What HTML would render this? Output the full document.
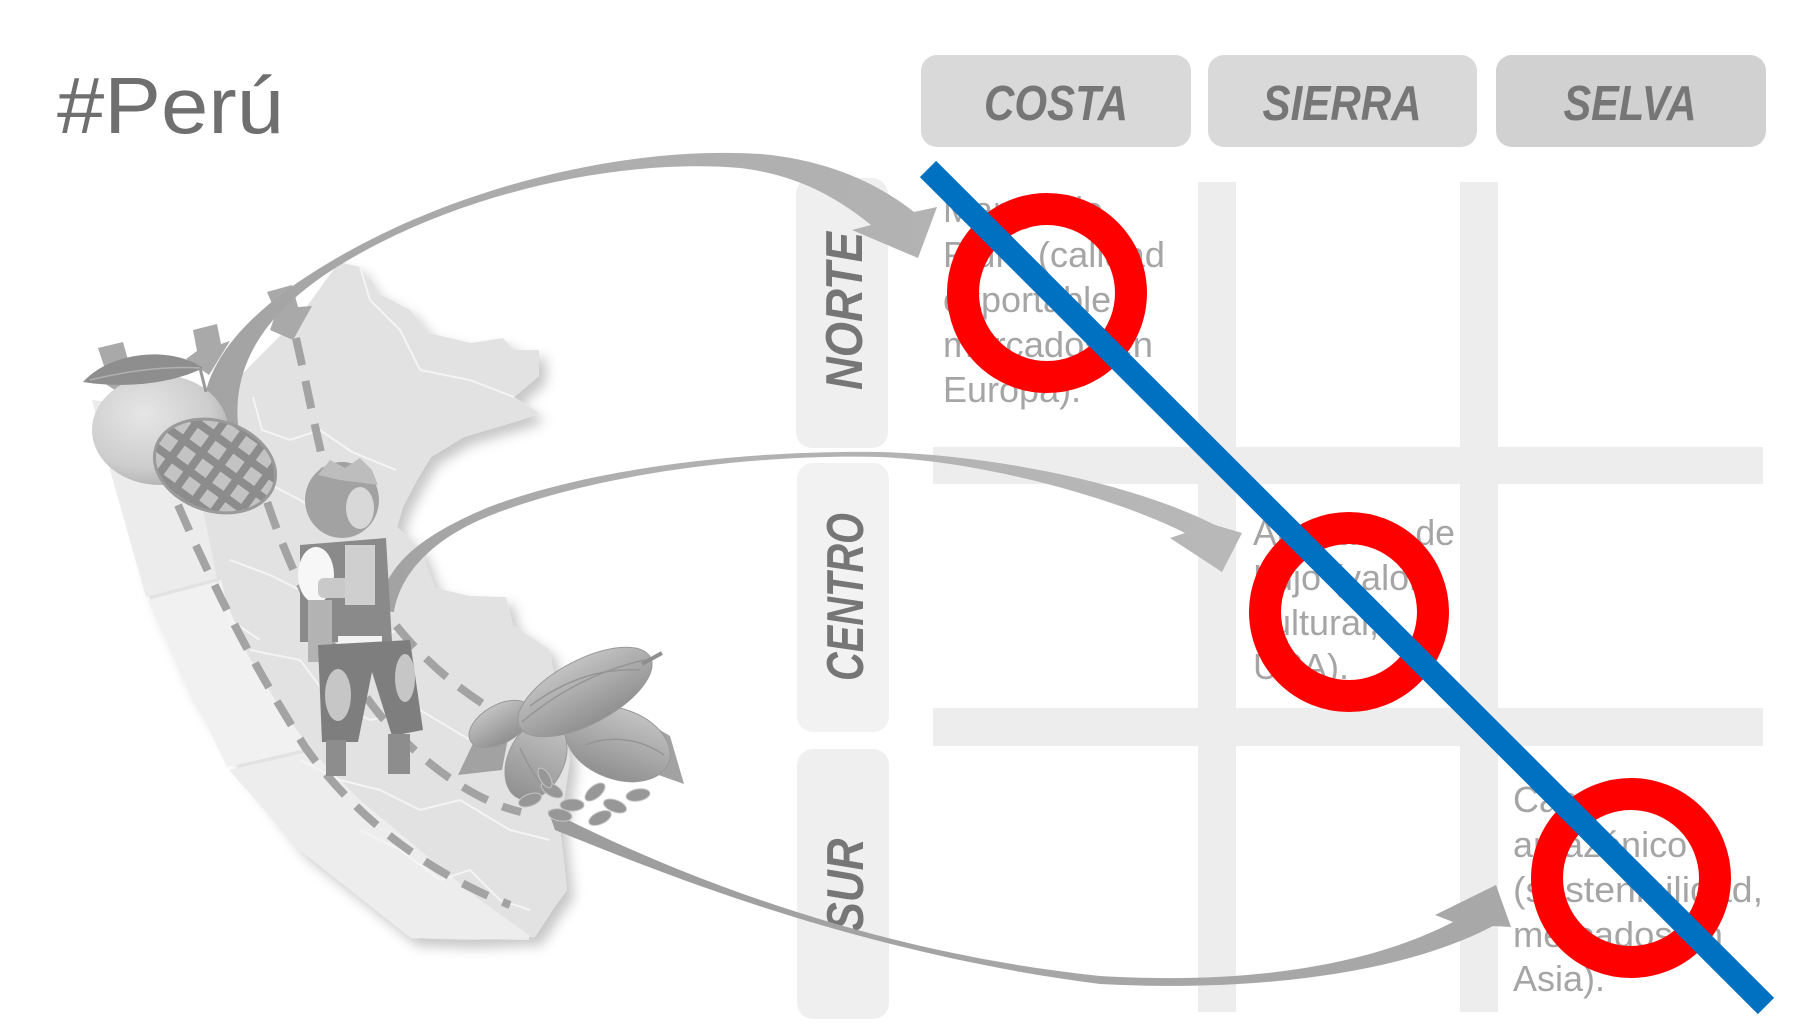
<!DOCTYPE html>
<html>
<head>
<meta charset="utf-8">
<style>
html,body{margin:0;padding:0;background:#fff;}
body{width:1808px;height:1027px;overflow:hidden;}
svg{display:block;}
</style>
</head>
<body>
<svg width="1808" height="1027" viewBox="0 0 1808 1027" xmlns="http://www.w3.org/2000/svg">
<defs>
  <filter id="sh" x="-20%" y="-20%" width="140%" height="140%">
    <feDropShadow dx="7" dy="8" stdDeviation="6" flood-color="#000" flood-opacity="0.22"/>
  </filter>
  <radialGradient id="mg" cx="0.38" cy="0.35" r="0.7">
    <stop offset="0" stop-color="#e6e6e6"/>
    <stop offset="0.7" stop-color="#cdcdcd"/>
    <stop offset="1" stop-color="#b0b0b0"/>
  </radialGradient>
  <pattern id="grid" width="22" height="22" patternUnits="userSpaceOnUse" patternTransform="rotate(18)">
    <rect width="22" height="22" fill="#8c8c8c"/>
    <rect x="4" y="4" width="14" height="14" fill="#c3c3c3"/>
  </pattern>
  <linearGradient id="pod" x1="0" y1="0" x2="0" y2="1">
    <stop offset="0" stop-color="#c2c2c2"/>
    <stop offset="1" stop-color="#909090"/>
  </linearGradient>
  <linearGradient id="a1" x1="200" y1="0" x2="940" y2="0" gradientUnits="userSpaceOnUse">
    <stop offset="0" stop-color="#a3a3a3"/>
    <stop offset="0.45" stop-color="#acacac"/>
    <stop offset="1" stop-color="#b3b3b3"/>
  </linearGradient>
  <linearGradient id="a2" x1="380" y1="0" x2="1240" y2="0" gradientUnits="userSpaceOnUse">
    <stop offset="0" stop-color="#a2a2a2"/>
    <stop offset="0.3" stop-color="#b0b0b0"/>
    <stop offset="1" stop-color="#b8b8b8"/>
  </linearGradient>
  <linearGradient id="a3" x1="550" y1="0" x2="1510" y2="0" gradientUnits="userSpaceOnUse">
    <stop offset="0" stop-color="#9c9c9c"/>
    <stop offset="0.5" stop-color="#a6a6a6"/>
    <stop offset="1" stop-color="#a8a8a8"/>
  </linearGradient>
</defs>

<!-- Title -->
<text x="57" y="133" font-family="Liberation Sans, Arial, sans-serif" font-size="80" fill="#6f6f6f" textLength="227" lengthAdjust="spacingAndGlyphs">#Perú</text>

<!-- Header boxes -->
<rect x="921" y="55" width="270" height="92" rx="16" fill="#d9d9d9"/>
<rect x="1208" y="55" width="269" height="92" rx="16" fill="#d9d9d9"/>
<rect x="1496" y="55" width="270" height="92" rx="16" fill="#d1d1d1"/>
<g font-family="Liberation Sans, Arial, sans-serif" font-weight="bold" font-style="italic" font-size="49" fill="#767676" text-anchor="middle">
  <text x="1056" y="120" textLength="144" lengthAdjust="spacingAndGlyphs">COSTA</text>
  <text x="1342" y="120" textLength="159" lengthAdjust="spacingAndGlyphs">SIERRA</text>
  <text x="1630" y="120" textLength="133" lengthAdjust="spacingAndGlyphs">SELVA</text>
</g>

<!-- Row label boxes -->
<rect x="796" y="178" width="92" height="270" rx="16" fill="#efefef"/>
<rect x="797" y="463" width="92" height="269" rx="16" fill="#f2f2f2"/>
<rect x="797" y="749" width="92" height="270" rx="16" fill="#efefef"/>
<g font-family="Liberation Sans, Arial, sans-serif" font-weight="bold" font-style="italic" font-size="52" fill="#767676" text-anchor="middle">
  <text transform="translate(862,311) rotate(-90)" x="0" y="0" textLength="158" lengthAdjust="spacingAndGlyphs">NORTE</text>
  <text transform="translate(863,597) rotate(-90)" x="0" y="0" textLength="168" lengthAdjust="spacingAndGlyphs">CENTRO</text>
  <text transform="translate(863,885) rotate(-90)" x="0" y="0" textLength="93" lengthAdjust="spacingAndGlyphs">SUR</text>
</g>

<!-- Grid bars -->
<g fill="#ededed">
  <rect x="1198" y="182" width="38" height="830"/>
  <rect x="1460" y="182" width="38" height="830"/>
  <rect x="933" y="447" width="830" height="37"/>
  <rect x="933" y="708" width="830" height="38"/>
</g>

<!-- Cell texts -->
<g font-family="Liberation Sans, Arial, sans-serif" font-size="36" fill="#a5a5a5">
  <text x="943" y="222">Mango de</text>
  <text x="943" y="267" textLength="222" lengthAdjust="spacingAndGlyphs">Piura (calidad</text>
  <text x="943" y="312">exportable,</text>
  <text x="943" y="357" textLength="210" lengthAdjust="spacingAndGlyphs">mercados en</text>
  <text x="943" y="402">Europa).</text>

  <text x="1253" y="545" textLength="202" lengthAdjust="spacingAndGlyphs">Artesanía de</text>
  <text x="1253" y="590">Lujo (valor</text>
  <text x="1253" y="635">cultural,</text>
  <text x="1253" y="679">USA).</text>

  <text x="1513" y="812">Cacao</text>
  <text x="1513" y="857">amazónico</text>
  <text x="1513" y="902" textLength="250" lengthAdjust="spacingAndGlyphs">(sostenibilidad,</text>
  <text x="1513" y="947" textLength="210" lengthAdjust="spacingAndGlyphs">mercados en</text>
  <text x="1513" y="991">Asia).</text>
</g>

<!-- Map graphic -->
<g filter="url(#sh)">
  <polygon fill="#e2e2e2" points="249,367 300,316 339,262 360,267 374,291 410,310 428,333 471,343 503,338 514,350 539,350 539,376 514,397 539,413 521,420 464,437 431,457 417,480 403,507 397,527 421,550 435,588 470,596 506,597 513,625 549,649 560,700 570,760 560,828 567,890 553,909 535,937 470,940 411,938 300,850 240,770 190,690 150,600 130,520 150,470 200,420"/>
</g>
<!-- band slices -->
<polygon fill="#ececec" points="92,400 110,470 146,597 217,578 205,520 195,470 182,410"/>
<polygon fill="#f1f1f1" points="148,600 219,581 245,650 275,700 310,748 227,767 190,690"/>
<polygon fill="#ededed" points="229,770 312,751 360,800 420,850 480,900 529,935 529,940 411,938 300,850"/>
<!-- internal borders -->
<g fill="none" stroke="#f4f4f4" stroke-width="2">
  <polyline points="253,397 262,430 290,440 320,430 352,452 396,470"/>
  <polyline points="360,267 370,300 400,330 420,370 470,380 514,397"/>
  <polyline points="262,480 300,500 330,520 362,530"/>
  <polyline points="230,560 270,575 300,590 320,620 360,640 400,630"/>
  <polyline points="250,650 300,660 330,700 370,720 420,710 470,740 520,730"/>
  <polyline points="300,760 340,780 380,790 420,810 460,800 510,830 550,840"/>
  <polyline points="360,830 400,850 440,880 470,870 500,900 530,910"/>
  <polyline points="220,580 230,620 260,640"/>
</g>

<!-- Dashed lines -->
<g fill="none" stroke="#a3a3a3" stroke-width="8" stroke-dasharray="28 16">
  <path d="M178,505 C215,590 250,660 305,747 C350,810 420,870 510,905"/>
  <path d="M255,460 C275,540 320,640 380,715 C420,760 470,800 521,812"/>
  <path d="M296,338 C315,420 330,520 365,580 C400,640 450,690 525,728"/>
</g>

<!-- small block arrows -->
<g fill="#a9a9a9">
  <polygon points="98,348 123,342 128,360 138,358 118,392 96,378 104,366"/>
  <polygon points="193,330 217,324 221,344 230,341 209,375 186,359 197,351"/>
  <polygon points="267,292 292,285 298,307 312,306 293,340 270,330 276,313"/>
</g>

<!-- Curved arrow 1 (NORTE) -->
<path fill="url(#a1)" d="M203,425 C198,370 240,315 330,262 C450,190 620,145 760,154 C830,160 880,185 914,212 L937,207 L918,258 L852,230 L871,225 C840,200 800,175 740,168 C620,158 460,192 340,265 C270,308 232,360 238,425 Z"/>

<!-- Curved arrow 2 (CENTRO) -->
<path fill="url(#a2)" d="M378,610 C385,570 410,540 489,507 C600,465 760,450 880,452 C990,455 1130,482 1215,525 L1242,533 L1222,572 L1170,538 L1185,533 C1120,500 990,462 880,457 C760,454 600,472 489,516 C430,540 400,575 394,612 Z"/>

<!-- Curved arrow 3 (SUR) -->
<path fill="url(#a3)" d="M548,810 C650,862 850,950 1100,976 C1250,985 1370,965 1453,922 L1435,915 L1496,885 L1511,927 L1493,926 C1400,975 1250,992 1100,984 C850,952 650,868 555,830 Z"/>

<!-- Mango -->
<ellipse cx="160" cy="430" rx="68" ry="55" fill="url(#mg)"/>
<path d="M83,382 C110,352 170,345 203,368 C170,385 120,388 83,382 Z" fill="#8e8e8e"/>
<path d="M90,380 C130,370 170,366 200,368" stroke="#b0b0b0" stroke-width="1.5" fill="none"/>
<line x1="200" y1="368" x2="206" y2="392" stroke="#999" stroke-width="3"/>
<ellipse cx="215" cy="466" rx="62" ry="45" transform="rotate(18 215 466)" fill="url(#grid)"/>
<ellipse cx="215" cy="466" rx="62" ry="45" transform="rotate(18 215 466)" fill="none" stroke="#9a9a9a" stroke-width="3"/>

<!-- Dancer -->
<g>
  <ellipse cx="342" cy="500" rx="37" ry="38" fill="#a2a2a2"/>
  <path d="M318,475 L330,460 L345,468 L360,458 L372,470 L378,485 L340,480 Z" fill="#bdbdbd"/>
  <ellipse cx="360" cy="508" rx="14" ry="21" fill="#d8d8d8"/>
  <polygon points="300,545 386,538 392,642 300,642" fill="#8a8a8a"/>
  <ellipse cx="316" cy="575" rx="18" ry="28" fill="#f7f7f7"/>
  <rect x="318" y="578" width="55" height="20" rx="6" fill="#c9c9c9"/>
  <rect x="345" y="545" width="30" height="60" fill="#cfcfcf"/>
  <rect x="308" y="600" width="24" height="62" fill="#b3b3b3"/>
  <rect x="338" y="636" width="44" height="16" fill="#f3f3f3"/>
  <polygon points="318,645 410,640 423,730 392,736 372,672 358,742 322,742" fill="#7e7e7e"/>
  <ellipse cx="338" cy="695" rx="13" ry="26" fill="#c6c6c6"/>
  <ellipse cx="405" cy="678" rx="10" ry="24" fill="#c6c6c6"/>
  <rect x="326" y="740" width="20" height="36" fill="#8d8d8d"/>
  <rect x="388" y="734" width="22" height="40" fill="#8d8d8d"/>
</g>

<!-- Cacao -->
<g>
  <polygon points="458,775 478,733 508,738 502,770" fill="#a2a2a2"/>
  <polygon points="640,718 670,736 684,784 650,772" fill="#a2a2a2"/>
  <ellipse cx="500" cy="724" rx="34" ry="19" transform="rotate(-30 500 724)" fill="url(#pod)" stroke="#999" stroke-width="1"/>
  <ellipse cx="536" cy="760" rx="28" ry="42" transform="rotate(25 536 760)" fill="url(#pod)" stroke="#999" stroke-width="1"/>
  <ellipse cx="618" cy="744" rx="54" ry="35" transform="rotate(20 618 744)" fill="url(#pod)" stroke="#999" stroke-width="1"/>
  <ellipse cx="585" cy="692" rx="74" ry="32" transform="rotate(-28 585 692)" fill="url(#pod)" stroke="#999" stroke-width="1"/>
  <path d="M642,664 L662,653" stroke="#8f8f8f" stroke-width="4"/>
  <g fill="none" stroke="#959595" stroke-width="1.5">
    <path d="M522,722 C560,690 600,670 645,660"/>
    <path d="M530,706 C565,680 600,668 640,670"/>
    <path d="M585,745 C610,735 640,738 664,755"/>
    <path d="M520,748 C530,770 540,785 552,795"/>
  </g>
  <g fill="#979797" stroke="#c4c4c4" stroke-width="1">
    <ellipse cx="530" cy="800" rx="12" ry="6" transform="rotate(-20 530 800)"/>
    <ellipse cx="552" cy="790" rx="12" ry="6" transform="rotate(30 552 790)"/>
    <ellipse cx="572" cy="805" rx="12" ry="6"/>
    <ellipse cx="595" cy="792" rx="12" ry="6" transform="rotate(-40 595 792)"/>
    <ellipse cx="615" cy="806" rx="12" ry="6" transform="rotate(20 615 806)"/>
    <ellipse cx="638" cy="795" rx="12" ry="6" transform="rotate(-10 638 795)"/>
    <ellipse cx="560" cy="815" rx="12" ry="6" transform="rotate(10 560 815)"/>
    <ellipse cx="600" cy="818" rx="12" ry="6" transform="rotate(-25 600 818)"/>
    <ellipse cx="545" cy="778" rx="11" ry="5" transform="rotate(60 545 778)"/>
  </g>
</g>

<!-- Red circles -->
<g fill="none" stroke="#ff0000" stroke-width="32">
  <circle cx="1047" cy="293" r="84"/>
  <circle cx="1349" cy="612" r="84"/>
  <circle cx="1631" cy="878" r="84"/>
</g>

<!-- Blue diagonal line -->
<line x1="928" y1="169" x2="1766" y2="1006" stroke="#0070c0" stroke-width="23"/>
</svg>
</body>
</html>
